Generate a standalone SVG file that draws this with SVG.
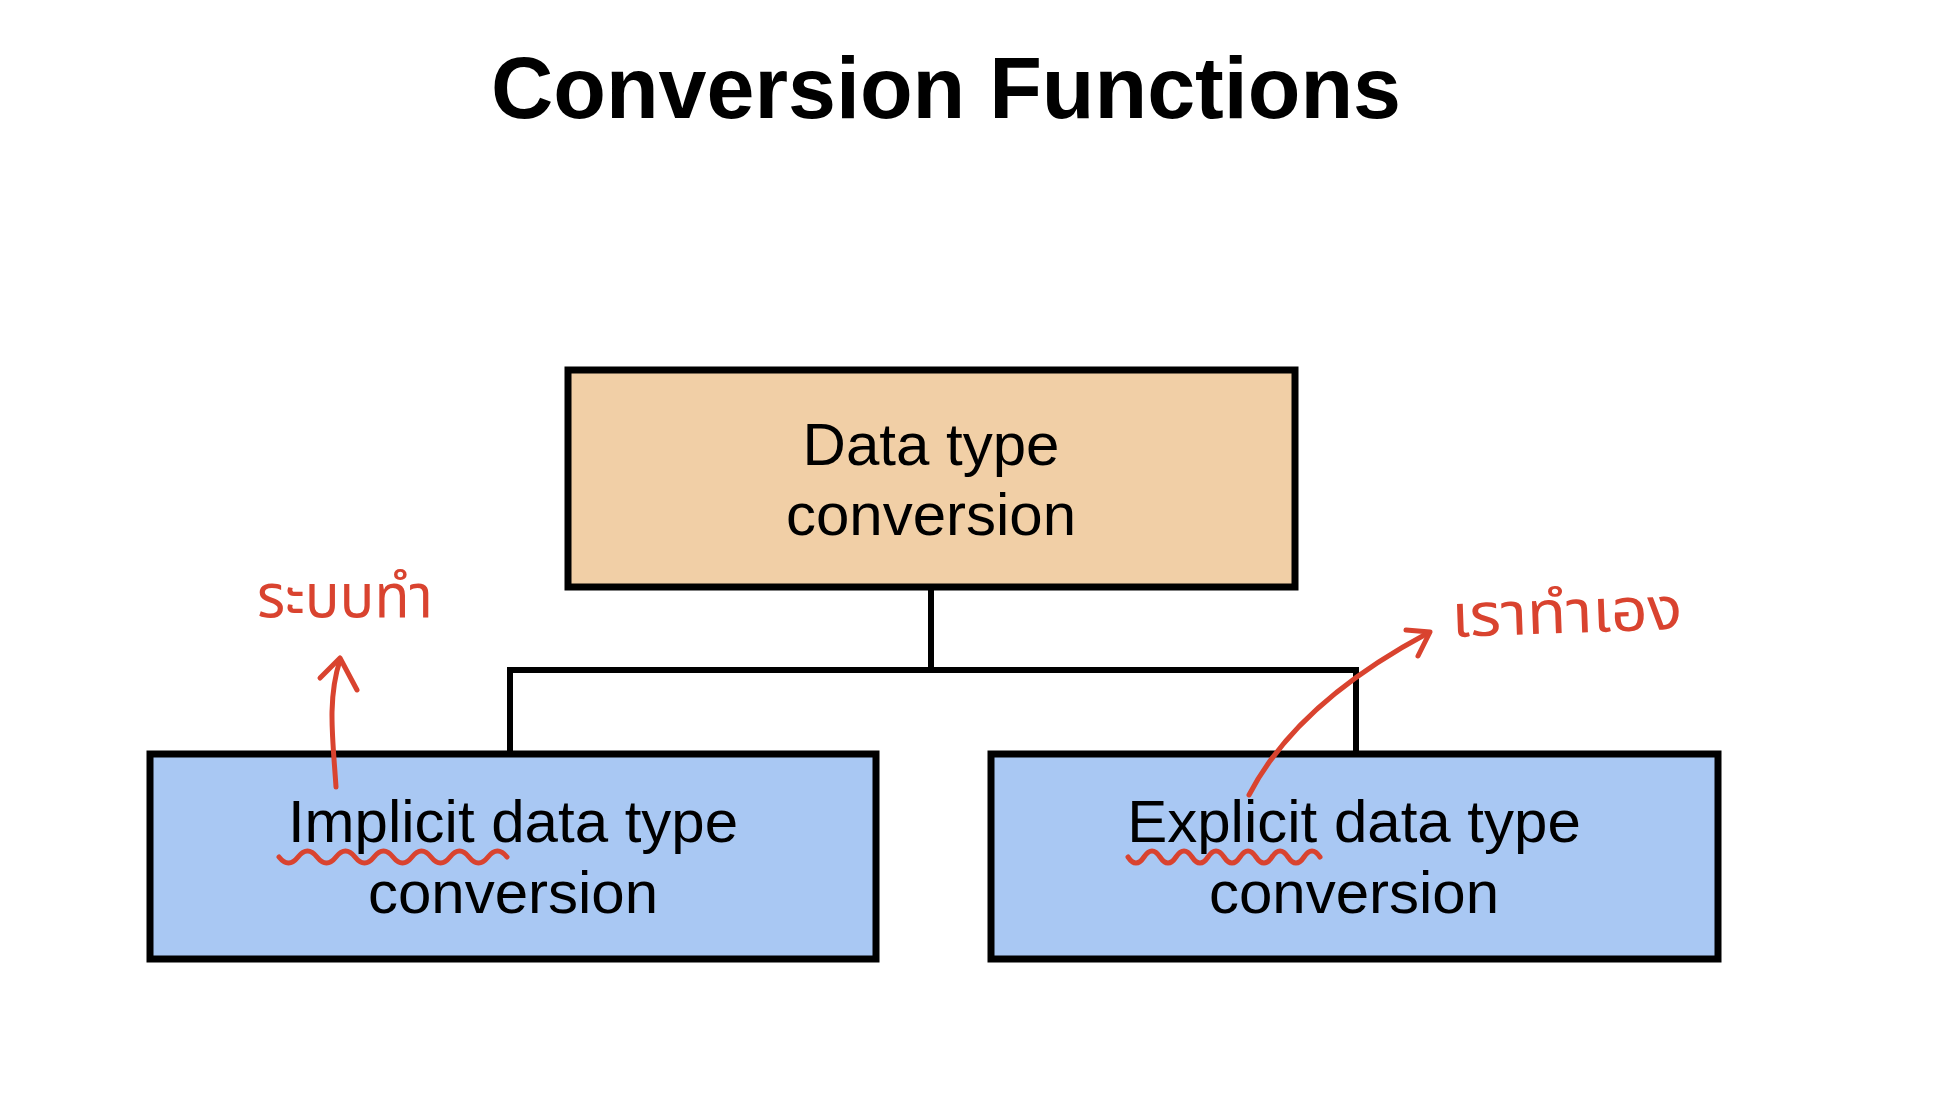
<svg xmlns="http://www.w3.org/2000/svg" width="1954" height="1116" viewBox="0 0 1954 1116">
  <style>
    .box { stroke: #000; stroke-width: 7; }
    .top { fill: #F1CFA6; }
    .child { fill: #A9C8F3; }
    .lbl { font-family: "Liberation Sans", Arial, sans-serif; font-size: 60px; fill: #000; text-anchor: middle; }
    .title { font-family: "Liberation Sans", Arial, sans-serif; font-size: 87px; font-weight: bold; fill: #000; text-anchor: middle; }
    .conn { fill: none; stroke: #000; stroke-width: 6; }
    .ink { fill: none; stroke: #D9432F; stroke-width: 5; stroke-linecap: round; stroke-linejoin: round; }
    .note { font-family: "Noto Sans Thai", "Noto Sans", "DejaVu Sans", sans-serif; font-size: 60px; fill: #D9432F; }
  </style>
  <rect width="1954" height="1116" fill="#FFFFFF"/>
  <text class="title" x="946" y="118" textLength="910" lengthAdjust="spacingAndGlyphs">Conversion Functions</text>

  <g id="connectors">
    <path class="conn" d="M931,590 V670 M510,670 H1356 M510,667 V754 M1356,667 V754"/>
  </g>

  <g id="node-data-type-conversion">
    <rect class="box top" x="568" y="370" width="727" height="217"/>
    <text class="lbl" x="931" y="465">Data type</text>
    <text class="lbl" x="931" y="535">conversion</text>
  </g>

  <g id="node-implicit">
    <rect class="box child" x="150" y="754" width="726" height="205"/>
    <text class="lbl" x="513" y="842">Implicit data type</text>
    <text class="lbl" x="513" y="913">conversion</text>
  </g>

  <g id="node-explicit">
    <rect class="box child" x="991" y="754" width="727" height="205"/>
    <text class="lbl" x="1354" y="842">Explicit data type</text>
    <text class="lbl" x="1354" y="913">conversion</text>
  </g>

  <g id="annotations">
    <path class="ink" d="M336,787 C333,740 327,700 340,660"/>
    <path class="ink" d="M320,678 L340,658 L357,690"/>
    <path class="ink" d="M279,857 q9.5,12 19,0 t19,0 t19,0 t19,0 t19,0 t19,0 t19,0 t19,0 t19,0 t19,0 t19,0 t19,0"/>
    <text class="note" x="257" y="617" textLength="176" lengthAdjust="spacingAndGlyphs">ระบบทำ</text>

    <path class="ink" d="M1249,795 C1280,735 1340,680 1428,633"/>
    <path class="ink" d="M1406,630 L1430,632 L1418,656"/>
    <path class="ink" d="M1128,857 q8,12 16,0 t16,0 t16,0 t16,0 t16,0 t16,0 t16,0 t16,0 t16,0 t16,0 t16,0 t16,0"/>
    <text class="note" x="1452" y="637" textLength="231" lengthAdjust="spacingAndGlyphs" transform="rotate(-2 1452 637)">เราทำเอง</text>
  </g>
</svg>
